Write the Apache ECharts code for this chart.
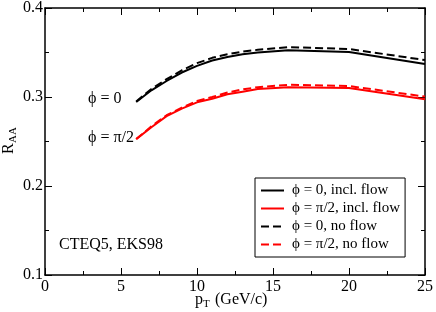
<!DOCTYPE html>
<html>
<head>
<meta charset="utf-8">
<script src="https://cdn.jsdelivr.net/npm/echarts@6/dist/echarts.min.js"></script>
<style>html,body{margin:0;padding:0;background:#fff;}#c{width:436px;height:312px;}</style>
</head>
<body>
<div id="c"></div>
<script>
const pT = [6, 7, 8, 9, 10, 11, 12, 13, 14, 16, 20, 25];
const phi0Flow   = [0.2944, 0.3075, 0.318, 0.3275, 0.335, 0.341, 0.345, 0.348, 0.350, 0.3525, 0.3505, 0.337];
const phi90Flow  = [0.2527, 0.266, 0.2785, 0.287, 0.294, 0.298, 0.303, 0.306, 0.309, 0.311, 0.310, 0.2975];
const phi0NoFlow = [0.295, 0.309, 0.320, 0.330, 0.338, 0.344, 0.348, 0.351, 0.353, 0.356, 0.354, 0.3415];
const phi90NoFlow= [0.2527, 0.267, 0.2795, 0.288, 0.2955, 0.300, 0.305, 0.3085, 0.311, 0.3137, 0.3123, 0.3005];
const seriesNames = ['ϕ = 0, incl. flow', 'ϕ = π/2, incl. flow', 'ϕ = 0, no flow', 'ϕ = π/2, no flow'];
const xTicks = [0, 5, 10, 15, 20, 25];
const yTicks = [0.1, 0.2, 0.3, 0.4];

const FONT = '"Liberation Serif", "DejaVu Serif", serif';
const FS = 16;
const pairs = ys => pT.map((x, i) => [x, ys[i]]);

const axisCommon = {
  axisLine: { show: true, onZero: false, lineStyle: { color: '#000', width: 1.5 } },
  axisTick: { show: true, inside: true, length: 7, lineStyle: { color: '#000', width: 1 } },
  minorTick: { show: true, splitNumber: 2, length: 4, lineStyle: { color: '#000', width: 1 } },
  splitLine: { show: false },
  minorSplitLine: { show: false }
};

function mkSeries(name, ys, color, dashed) {
  return {
    name: name, type: 'line', data: pairs(ys), symbol: 'none', smooth: false,
    lineStyle: { color: color, width: 2, type: dashed ? [8, 4] : 'solid' },
    itemStyle: { color: color },
    xAxisIndex: 0, yAxisIndex: 0, silent: true, animation: false
  };
}

const chart = echarts.init(document.getElementById('c'), null, { renderer: 'canvas' });
chart.setOption({
  animation: false,
  grid: { left: 45, right: 9, top: 6, bottom: 37, containLabel: false },
  xAxis: [
    Object.assign({ type: 'value', min: 0, max: 25, interval: 5, position: 'bottom',
      axisLabel: { show: true, color: '#000', fontFamily: FONT, fontSize: FS, margin: 4,
        formatter: v => xTicks.indexOf(v) >= 0 ? String(v) : '' } }, axisCommon),
    Object.assign({ type: 'value', min: 0, max: 25, interval: 5, position: 'top',
      axisLabel: { show: false } }, axisCommon)
  ],
  yAxis: [
    Object.assign({ type: 'value', min: 0.1, max: 0.4, interval: 0.1, position: 'left',
      axisLabel: { show: true, color: '#000', fontFamily: FONT, fontSize: FS, margin: 2,
        formatter: v => v.toFixed(1) } }, axisCommon),
    Object.assign({ type: 'value', min: 0.1, max: 0.4, interval: 0.1, position: 'right',
      axisLabel: { show: false } }, axisCommon)
  ],
  legend: {
    orient: 'vertical', left: 255, top: 178,
    data: seriesNames,
    itemWidth: 23, itemHeight: 15, itemGap: 3,
    padding: [5, 5, 5, 5],
    borderColor: '#000', borderWidth: 1, borderRadius: 0,
    backgroundColor: '#fff',
    itemStyle: { opacity: 0 },
    textStyle: { color: '#000', fontFamily: FONT, fontSize: 15, lineHeight: 15, padding: [0, 0, 0, 3] },
    selectedMode: false
  },
  series: [
    mkSeries(seriesNames[0], phi0Flow, '#000', false),
    mkSeries(seriesNames[1], phi90Flow, '#ff0000', false),
    mkSeries(seriesNames[2], phi0NoFlow, '#000', true),
    mkSeries(seriesNames[3], phi90NoFlow, '#ff0000', true)
  ],
  graphic: [
    { type: 'text', left: 88, top: 91, style: { text: 'ϕ = 0', font: FS + 'px ' + FONT, fill: '#000' } },
    { type: 'text', left: 88, top: 130, style: { text: 'ϕ = π/2', font: FS + 'px ' + FONT, fill: '#000' } },
    { type: 'text', left: 59, top: 237, style: { text: 'CTEQ5, EKS98', font: FS + 'px ' + FONT, fill: '#000' } },
    { type: 'group', x: 1, y: 154, rotation: Math.PI / 2, children: [
      { type: 'text', x: 0, y: 0, style: { text: 'R', font: FS + 'px ' + FONT, fill: '#000', textVerticalAlign: 'top' } },
      { type: 'text', x: 11, y: 7, style: { text: 'AA', font: '11px ' + FONT, fill: '#000', textVerticalAlign: 'top' } }
    ] },
    { type: 'group', x: 195, y: 292, children: [
      { type: 'text', x: 0, y: 0, style: { text: 'p', font: FS + 'px ' + FONT, fill: '#000', textVerticalAlign: 'top' } },
      { type: 'text', x: 8, y: 7, style: { text: 'T', font: '11px ' + FONT, fill: '#000', textVerticalAlign: 'top' } },
      { type: 'text', x: 20, y: 0, style: { text: '(GeV/c)', font: FS + 'px ' + FONT, fill: '#000', textVerticalAlign: 'top' } }
    ] }
  ]
});
</script>
</body>
</html>
